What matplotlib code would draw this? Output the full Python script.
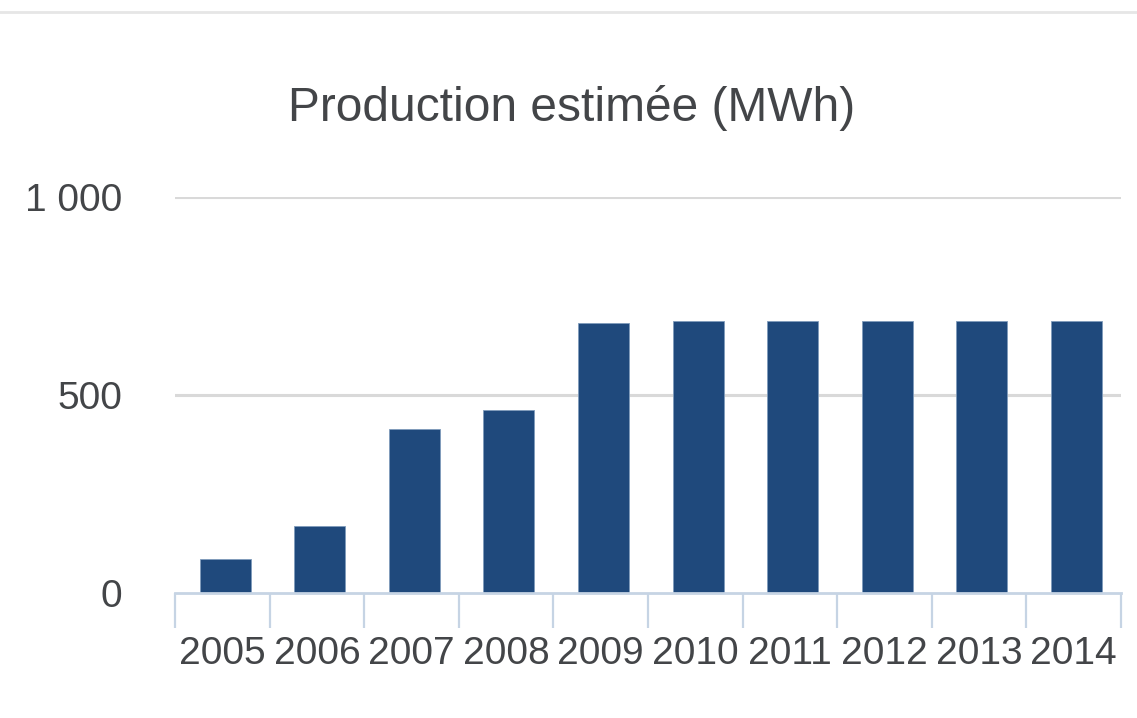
import matplotlib
matplotlib.use("Agg")
import matplotlib.pyplot as plt
from matplotlib.lines import Line2D
import numpy as np

years = ["2005", "2006", "2007", "2008", "2009", "2010", "2011", "2012", "2013", "2014"]
production_mwh = [87, 169, 415, 463, 681, 688, 688, 688, 688, 688]
y_ticks = [0, 500, 1000]
y_tick_labels = ["0", "500", "1 000"]
title = "Production estimée (MWh)"

plt.rcParams["font.family"] = ["Liberation Sans", "DejaVu Sans"]

BAR = "#1f497c"
TEXT = "#434548"
GRID = "#d9d9d9"
AXIS = "#c6d4e4"

fig = plt.figure(figsize=(11.37, 7.18), dpi=100)
ax = fig.add_axes([0.1539, 0.1741, 0.832, 0.5515])

x = np.arange(len(years))
ax.bar(x + 0.03, production_mwh, width=0.54, color=BAR, edgecolor="#7f9bbb",
       linewidth=0.6, zorder=3)

ax.set_xlim(-0.5, len(years) - 0.5)
ax.set_ylim(0, 1000)

# horizontal grid
ax.set_yticks(y_ticks)
ax.set_yticklabels(y_tick_labels)
for v in y_ticks[1:]:
    ax.axhline(v, color=GRID, linewidth=2.2, zorder=1)
ax.tick_params(axis="y", length=0, pad=38, labelsize=28, labelcolor=TEXT)

# category boundaries as tick marks, labels centred in each category
ax.set_xticks(np.arange(-0.5, len(years)), minor=False)
ax.set_xticklabels([""] * (len(years) + 1))
ax.set_xticks(x, minor=True)
ax.set_xticklabels(years, minor=True)
ax.tick_params(axis="x", which="major", length=25, width=1.6, color=AXIS,
               direction="out")
ax.tick_params(axis="x", which="minor", length=0, pad=31, labelsize=28,
               labelcolor=TEXT)

for side in ["top", "right", "left"]:
    ax.spines[side].set_visible(False)
ax.spines["bottom"].set_color(AXIS)
ax.spines["bottom"].set_linewidth(2)
ax.spines["bottom"].set_zorder(4)

fig.text(0.5025, 0.849, title, ha="center", va="center", fontsize=34.5,
         color=TEXT)

# thin separator along the top edge
fig.add_artist(Line2D([0, 1], [0.983, 0.983], transform=fig.transFigure,
                      color="#e6e6e6", linewidth=2))

fig.savefig("out.png", dpi=100, facecolor="white")
